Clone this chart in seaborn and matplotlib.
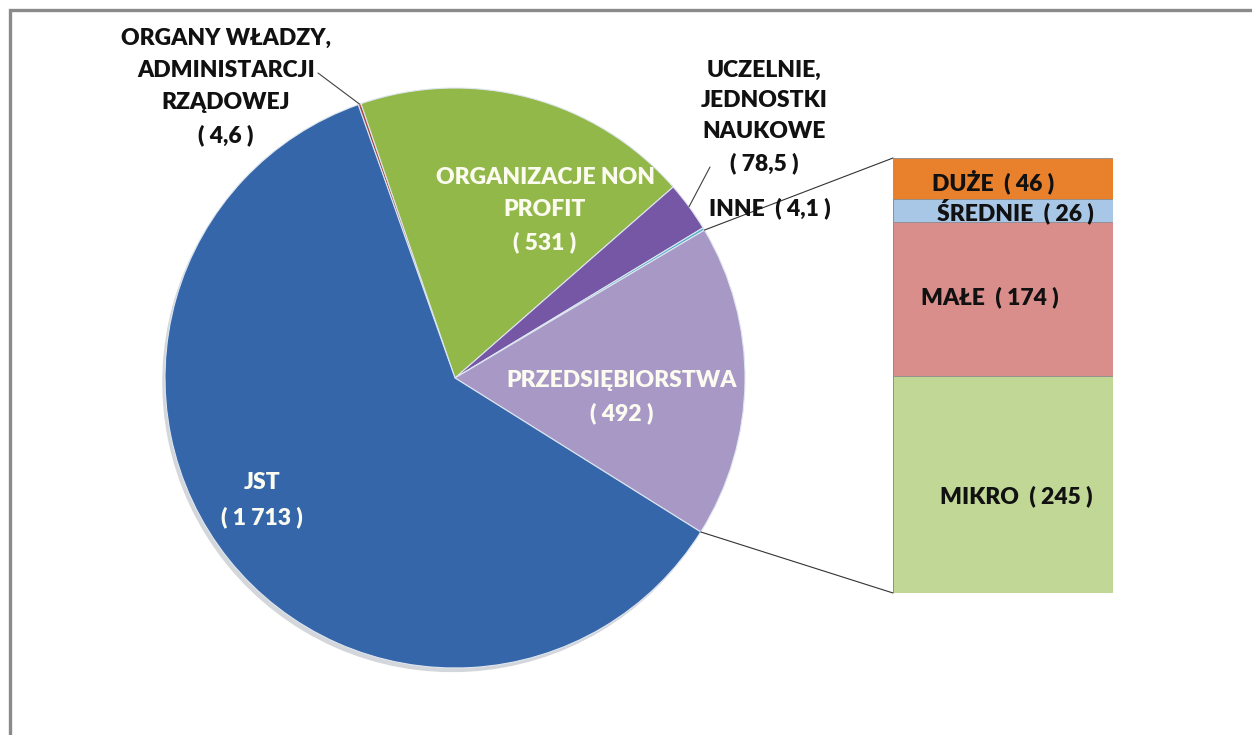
import numpy as np
import matplotlib
matplotlib.use("Agg")
import matplotlib.pyplot as plt
import matplotlib.patches as mpatches
import matplotlib.patheffects as pe
import pandas as pd
import seaborn as sns
from matplotlib.patches import ConnectionPatch

# pie: main groups (mln), clockwise from the top-left
pie_labels = ["ORGANY WŁADZY,\nADMINISTARCJI\nRZĄDOWEJ", "ORGANIZACJE NON\nPROFIT",
              "UCZELNIE,\nJEDNOSTKI\nNAUKOWE", "INNE", "PRZEDSIĘBIORSTWA", "JST"]
pie_values = [4.6, 531, 78.5, 4.1, 492, 1713]
pie_value_txt = ["4,6", "531", "78,5", "4,1", "492", "1 713"]
pie_colors = ["#c0504d", "#92b84a", "#7657a6", "#4bacc6", "#a898c6", "#3566a9"]

# bar: split of PRZEDSIĘBIORSTWA, bottom to top
bar_labels = ["MIKRO", "MAŁE", "ŚREDNIE", "DUŻE"]
bar_values = [245, 174, 26, 46]
bar_colors = ["#c0d795", "#d98e8c", "#a8c6e6", "#e9802c"]

sns.set_theme(style="white")
plt.rcParams["font.family"] = ["Lato", "DejaVu Sans"]

W, H = 1252, 735
fig = plt.figure(figsize=(W / 100, H / 100), dpi=100)


def fx(px):
    return px / W


def fy(py):
    return 1 - py / H


# outer frame (runs off the right and bottom edge)
fig.patches.append(mpatches.Rectangle((fx(10), fy(740)), 1.2, fy(10) - fy(740),
                                      transform=fig.transFigure, fill=False,
                                      edgecolor="#8a8a8a", linewidth=2.4))

# ---- pie
cx, cy, r = 455, 378, 290
ax = fig.add_axes([fx(cx - r), fy(cy + r), fx(2 * r), fy(cy - r) - fy(cy + r)])
start = 90 + 19.5
wedges, _ = ax.pie(pie_values, colors=pie_colors, startangle=start, counterclock=False,
                   radius=1, wedgeprops=dict(edgecolor="#dfe6f0", linewidth=0.8))
for w in wedges:
    w.set_path_effects([pe.SimplePatchShadow(offset=(-2, -3), alpha=0.18), pe.Normal()])
ax.set_xlim(-1, 1)
ax.set_ylim(-1, 1)
ax.set_aspect("equal")
ax.axis("off")


def edge_point(angle, rad=1.0):
    a = np.deg2rad(angle)
    return rad * np.cos(a), rad * np.sin(a)


def mid_angle(w):
    return (w.theta1 + w.theta2) / 2


# leader lines for the small slices
ax.annotate("", xy=edge_point(mid_angle(wedges[0]), 1.0), xycoords="data",
            xytext=(318, H - 73), textcoords="figure pixels",
            arrowprops=dict(arrowstyle="-", color="#404040", lw=0.8, shrinkA=0, shrinkB=0))
ax.annotate("", xy=edge_point(mid_angle(wedges[2]), 1.0), xycoords="data",
            xytext=(710, H - 167), textcoords="figure pixels",
            arrowprops=dict(arrowstyle="-", color="#404040", lw=0.8, shrinkA=0, shrinkB=0))

# ---- bar of the PRZEDSIĘBIORSTWA slice
bx0, bx1, by0, by1 = 893, 1113, 158, 593
bax = fig.add_axes([fx(bx0), fy(by1), fx(bx1) - fx(bx0), fy(by0) - fy(by1)])
cum = np.cumsum(bar_values)
for i in range(len(bar_values) - 1, -1, -1):
    df = pd.DataFrame({"g": ["x"], "v": [cum[i]]})
    sns.barplot(data=df, x="g", y="v", color=bar_colors[i], saturation=1, width=1,
                edgecolor="#8c8c8c", linewidth=0.6, ax=bax)
bax.set_xlim(-0.5, 0.5)
bax.set_ylim(0, cum[-1])
bax.axis("off")

# connector lines pie -> bar
p_top = edge_point(wedges[4].theta2)
p_bot = edge_point(wedges[4].theta1)
for p, q in [(p_top, (-0.5, cum[-1])), (p_bot, (-0.5, 0))]:
    con = ConnectionPatch(xyA=p, coordsA=ax.transData, xyB=q, coordsB=bax.transData,
                          color="#333333", lw=0.8)
    fig.add_artist(con)

# ---- labels
fs = 16.5
lbl = dict(fontsize=fs, fontweight="heavy", ha="center", va="center")
white = "#fbfbf0"
fig.text(fx(226), fy(87), pie_labels[0] + "\n( " + pie_value_txt[0] + " )", color="#111111",
         linespacing=1.63, **lbl)
fig.text(fx(545), fy(210), pie_labels[1] + "\n( " + pie_value_txt[1] + " )", color=white,
         linespacing=1.65, **lbl)
fig.text(fx(764), fy(117), pie_labels[2] + "\n( " + pie_value_txt[2] + " )", color="#111111",
         linespacing=1.58, **lbl)
fig.text(fx(770), fy(208), pie_labels[3] + "  ( " + pie_value_txt[3] + " )", color="#111111", **lbl)
fig.text(fx(622), fy(397), pie_labels[4] + "\n( " + pie_value_txt[4] + " )", color=white,
         linespacing=1.65, **lbl)
fig.text(fx(262), fy(500), pie_labels[5] + "\n( " + pie_value_txt[5] + " )", color=white,
         linespacing=1.75, **lbl)

bar_pos = [(1016, 496), (990, 297), (1015, 211), (993, 182)]
for name, v, (x, y) in zip(bar_labels, bar_values, bar_pos):
    fig.text(fx(x), fy(y), f"{name}  ( {v} )", color="#111111", **lbl)

fig.savefig("out.png", dpi=100)
